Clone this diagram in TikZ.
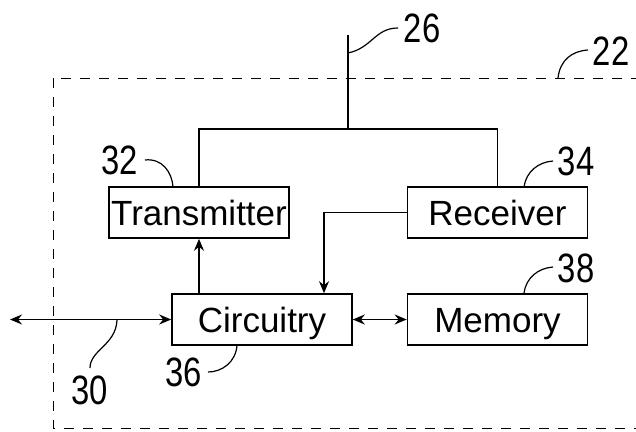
\documentclass[tikz,border=0pt]{standalone}
\usepackage{fontspec}
\setmainfont{Liberation Sans}
\newfontfamily\numfont[FakeStretch=0.8]{Liberation Sans}
\usetikzlibrary{arrows.meta}
\begin{document}
\begin{tikzpicture}[x=1pt,y=-1pt,
  blk/.style={draw, line width=1.6pt, minimum width=180pt, minimum height=51pt,
    inner sep=0pt, text height=25pt, text depth=0pt, font=\fontsize{35}{40}\selectfont},
  lbl/.style={font=\numfont\fontsize{41}{45}\selectfont, inner sep=0pt},
  wire/.style={line width=1.6pt},
  tipa/.style={-{Stealth[length=12pt,width=10pt]}},
  tipb/.style={{Stealth[length=12pt,width=10pt]}-{Stealth[length=12pt,width=10pt]}},
  lead/.style={line width=1.2pt}]
\clip (0,0) rectangle (636,431);
\fill[white] (0,0) rectangle (636,431);
\draw[line width=1pt, dash pattern=on 10pt off 9pt] (53,78) rectangle (700,428);

\node[blk] (tx) at (199,212.5) {Transmitter};
\node[blk] (rx) at (497.5,212.5) {Receiver};
\node[blk] (cc) at (262,319.5) {Circuitry};
\node[blk] (mem) at (497.5,319.5) {Memory};

\coordinate (ant) at (348,35);
\coordinate (jn) at (348,129);
\coordinate (rc) at (324,0);
\coordinate (ext) at (10,319.5);

\draw[wire] (ant) -- (jn);
\draw[wire] (tx.north) |- (jn) -| (rx.north);
\draw[wire,tipa] (tx.south |- cc.north) -- (tx.south);
\draw[wire,tipa] (rx.west) -| (rc |- cc.north);
\draw[wire,tipb] (ext) -- (cc.west);
\draw[wire,tipb] (cc.east) -- (mem.west);

\node[lbl] (l26) at (422,28) {26};
\node[lbl] (l22) at (611,51) {22};
\node[lbl] (l32) at (120,160) {32};
\node[lbl] (l34) at (576,161) {34};
\node[lbl] (l38) at (576,268) {38};
\node[lbl] (l36) at (184,372) {36};
\node[lbl] (l30) at (90,390) {30};

\draw[lead] (348,53) .. controls (372,48) and (375,28) .. (398,28);
\draw[lead] (558,78) .. controls (560,60) and (572,51) .. (588,50);
\draw[lead] (145,160) .. controls (162,158) and (172,172) .. (173,187);
\draw[lead] (524,187) .. controls (526,172) and (538,162) .. (553,161);
\draw[lead] (524,293) .. controls (526,278) and (538,268) .. (553,267);
\draw[lead] (237,345) .. controls (236,362) and (222,372) .. (208,372);
\draw[lead] (117,320) .. controls (116,345) and (90,350) .. (90,368);
\end{tikzpicture}
\end{document}
